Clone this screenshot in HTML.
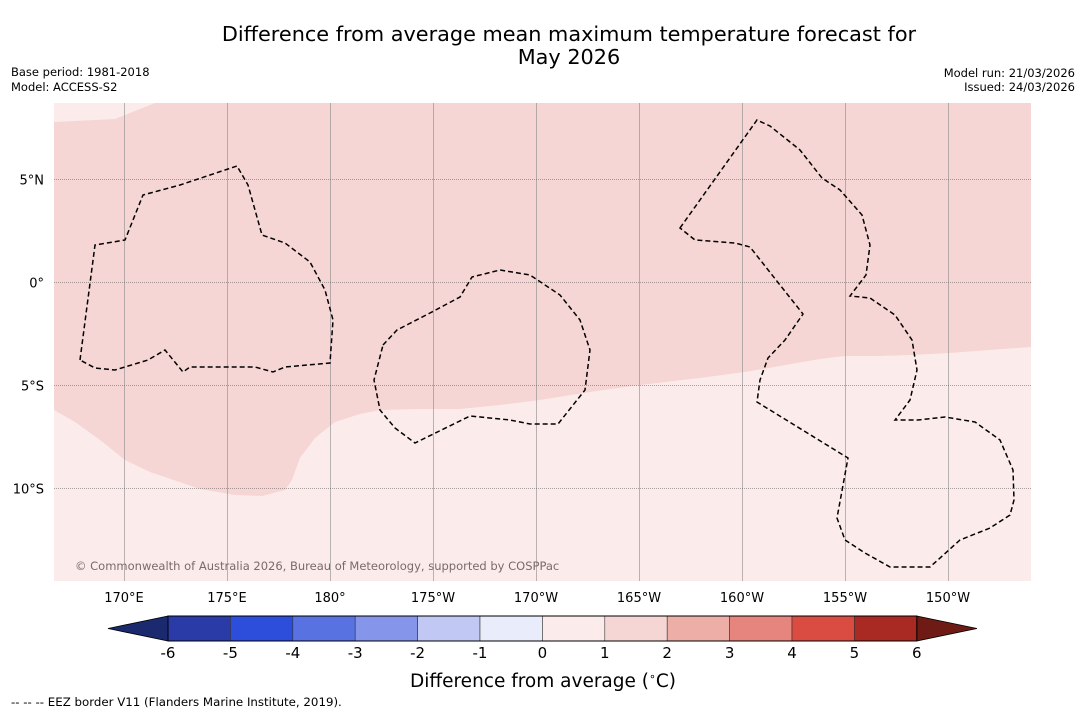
<!DOCTYPE html>
<html><head><meta charset="utf-8"><style>
body{margin:0;background:#fff;font-family:"DejaVu Sans","Liberation Sans",sans-serif;}
svg{display:block}
</style></head><body>
<svg width="1085" height="713" xmlns="http://www.w3.org/2000/svg" font-family="DejaVu Sans, Liberation Sans, sans-serif">
<rect width="1085" height="713" fill="#fff"/>
<text x="569" y="41" font-size="20.8" text-anchor="middle">Difference from average mean maximum temperature forecast for</text>
<text x="569" y="64" font-size="20.8" text-anchor="middle">May 2026</text>
<text x="11" y="76" font-size="11.5">Base period: 1981-2018</text>
<text x="11" y="91" font-size="11.5">Model: ACCESS-S2</text>
<text x="1075" y="77" font-size="11.5" text-anchor="end">Model run: 21/03/2026</text>
<text x="1075" y="91" font-size="11.5" text-anchor="end">Issued: 24/03/2026</text>
<defs><clipPath id="mc"><rect x="54" y="103" width="977" height="478"/></clipPath></defs>
<g id="map" clip-path="url(#mc)">
<rect x="54" y="103" width="977" height="478" fill="#f6d6d4"/>
<path fill="#fbeceb" d="M54,410 L75,422 L100,440 L125,460 L150,472 L200,489 L235,495 L262,496 L285,490 L292,480 L300,458 L315,438 L335,422 L360,414 L380,410 L420,409 L460,409 L500,405 L540,400 L590,392 L640,385 L700,378 L745,372 L780,366 L820,359 L845,356 L880,356 L910,355 L950,353 L990,350 L1031,347 L1031,581 L54,581 Z"/>
<path fill="#fbeceb" d="M54,103 L155,103 L130,113 L115,119 L54,122 Z"/>
<g id="grid"></g>
<g fill="none" stroke="#000" stroke-width="1.5" stroke-dasharray="5,3">
<path d="M80,360 L95,245 L125,240 L143,195 L180,185 L237,166 L248,185 L262,235 L285,243 L310,262 L325,290 L333,320 L330,363 L285,367 L273,372 L255,367 L190,367 L183,372 L165,350 L148,360 L115,370 L95,368 Z"/>
<path d="M383,345 L397,330 L430,313 L460,297 L472,277 L500,270 L530,275 L560,295 L580,320 L590,350 L585,390 L558,424 L530,424 L510,420 L470,416 L415,443 L395,428 L380,410 L374,380 Z"/>
<path d="M680,228 L757,120 L770,126 L800,150 L822,178 L840,190 L862,215 L870,245 L866,275 L850,296 L870,298 L895,315 L912,340 L917,370 L910,400 L895,420 L918,420 L945,417 L975,422 L1000,440 L1013,470 L1014,500 L1010,515 L990,528 L960,540 L930,567 L890,567 L865,553 L845,540 L837,518 L848,458 L757,402 L760,380 L768,358 L785,340 L803,314 L780,285 L750,247 L735,243 L695,240 Z"/>
</g>
<text x="75" y="570" font-size="11.5" fill="#7a6a6a">© Commonwealth of Australia 2026, Bureau of Meteorology, supported by COSPPac</text>
</g>
<g id="ticks"></g>
<g id="cbar"></g>
<text x="543" y="687" font-size="18.5" text-anchor="middle">Difference from average (<tspan font-size="11" dy="-7">∘</tspan><tspan dy="7">C)</tspan></text>
<text x="11" y="706" font-size="11.8">--  --  -- EEZ border V11 (Flanders Marine Institute, 2019).</text>
</svg>
<script>
const lonTicks=[170,175,180,185,190,195,200,205,210];
const lonLabels=["170°E","175°E","180°","175°W","170°W","165°W","160°W","155°W","150°W"];
const latTicks=[5,0,-5,-10];
const latLabels=["5°N","0°","5°S","10°S"];
const cbarBins=[-6,-5,-4,-3,-2,-1,0,1,2,3,4,5,6];
const cbarColors=["#2a3ba8","#2d4ddb","#5872e2","#8595ea","#c0c8f3","#e9ecfa","#fbeceb","#f6d6d4","#edaea8","#e6857e","#da4b41","#a92a22"];
const NS="http://www.w3.org/2000/svg";
const xLon=l=>124+(l-170)*20.6;
const yLat=l=>282-l*20.6;
const xC=v=>168+(v+6)*62.4;
function mk(t,a,p){const e=document.createElementNS(NS,t);for(const k in a)e.setAttribute(k,a[k]);p.appendChild(e);return e;}
const grid=document.getElementById('grid'),ticks=document.getElementById('ticks'),cb=document.getElementById('cbar');
lonTicks.forEach((l,i)=>{
 const x=xLon(l);
 const xs=Math.round(x)+0.5;
 const g=mk('line',{x1:xs,x2:xs,y1:103,y2:581,stroke:'#8a8a8a','stroke-width':0.6},grid);
 
 
 const t=mk('text',{x:x,y:602,'font-size':13,'text-anchor':'middle'},ticks);t.textContent=lonLabels[i];
 
 
});
latTicks.forEach((l,i)=>{
 const y=Math.round(yLat(l))+0.5;
 const g=mk('line',{x1:54,x2:1031,y1:y,y2:y,stroke:'#555','stroke-width':0.6,'stroke-dasharray':'1,1'},grid);
 
 
 const t=mk('text',{x:44,y:y+5,'font-size':13,'text-anchor':'end'},ticks);t.textContent=latLabels[i];
 
 
});
const y0=616,y1=641;
const lt=mk('polygon',{points:`${xC(-6)},${y0} 108,${(y0+y1)/2} ${xC(-6)},${y1}`,fill:'#1b2a6e',stroke:'#000','stroke-width':0.8},cb);


const rt=mk('polygon',{points:`${xC(6)},${y0} 977,${(y0+y1)/2} ${xC(6)},${y1}`,fill:'#6e1b15',stroke:'#000','stroke-width':0.8},cb);


cbarColors.forEach((c,i)=>{
 const r=mk('rect',{x:xC(cbarBins[i]),y:y0,width:xC(cbarBins[i+1])-xC(cbarBins[i]),height:y1-y0,fill:c,stroke:'#333','stroke-width':0.6},cb);
 
 
});
mk('rect',{x:xC(-6),y:y0,width:xC(6)-xC(-6),height:y1-y0,fill:'none',stroke:'#000','stroke-width':1},cb);
cbarBins.forEach(v=>{
 const t=mk('text',{x:xC(v),y:658,'font-size':15,'text-anchor':'middle'},cb);t.textContent=String(v);
 
 
});
</script>
</body></html>
